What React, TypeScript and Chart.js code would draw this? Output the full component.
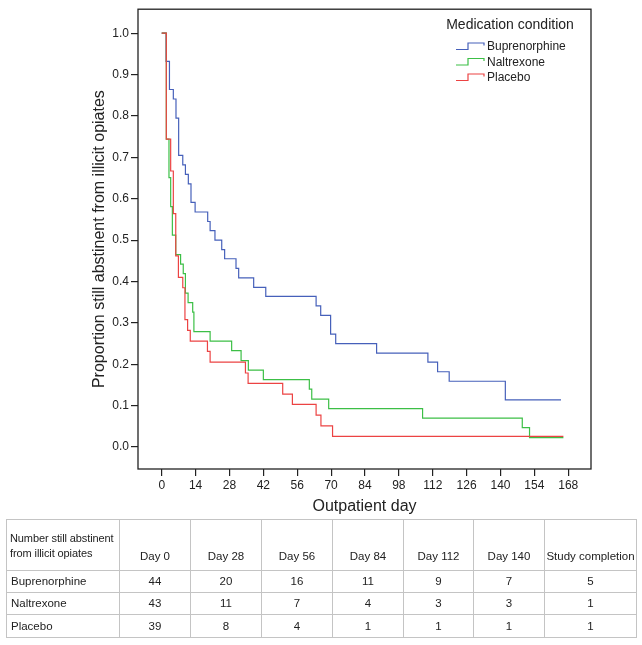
import React, { useEffect, useRef } from "react";
import { Chart, registerables } from "chart.js";

Chart.register(...registerables);

const seriesNames = ["Buprenorphine", "Naltrexone", "Placebo"];
const seriesColors = ["#4660BA", "#3CBF46", "#EC4343"];

const buprenorphineDays = [0, 1.8, 3.2, 4.8, 5.9, 7, 8.7, 9.8, 11, 12.1, 13.8, 19, 20, 22, 24.8, 26, 30.7, 31.8, 38, 43, 63.8, 65.7, 69.8, 71.9, 88.8, 110, 114, 118.8, 142, 165];
const buprenorphineSurvival = [1.0, 0.932, 0.864, 0.841, 0.795, 0.705, 0.682, 0.659, 0.636, 0.591, 0.568, 0.545, 0.523, 0.5, 0.477, 0.455, 0.432, 0.409, 0.386, 0.364, 0.341, 0.318, 0.273, 0.25, 0.227, 0.205, 0.182, 0.159, 0.114, 0.114];

const naltrexoneDays = [0, 1.9, 3.0, 3.7, 4.4, 5.8, 7.8, 8.9, 9.8, 10.9, 12.8, 13.3, 20, 28.9, 32.8, 35.8, 42, 61, 62, 69, 107.8, 149, 152, 166];
const naltrexoneSurvival = [1.0, 0.744, 0.651, 0.581, 0.512, 0.465, 0.442, 0.419, 0.372, 0.349, 0.326, 0.279, 0.256, 0.233, 0.209, 0.186, 0.163, 0.14, 0.116, 0.093, 0.07, 0.047, 0.023, 0.023];

const placeboDays = [0, 1.9, 3.7, 4.8, 5.8, 6.9, 8.7, 9.6, 10.7, 11.8, 18.9, 20, 34.6, 35.7, 50, 54, 63.8, 65.8, 70.6, 166];
const placeboSurvival = [1.0, 0.744, 0.667, 0.564, 0.462, 0.41, 0.385, 0.308, 0.282, 0.256, 0.231, 0.205, 0.179, 0.154, 0.128, 0.103, 0.077, 0.051, 0.026, 0.026];

const xTicks = [0, 14, 28, 42, 56, 70, 84, 98, 112, 126, 140, 154, 168];
const yTicks = [0, 0.1, 0.2, 0.3, 0.4, 0.5, 0.6, 0.7, 0.8, 0.9, 1.0];

const xTitle = "Outpatient day";
const yTitle = "Proportion still abstinent from illicit opiates";
const legendTitle = "Medication condition";

const tableCorner = ["Number still abstinent", "from illicit opiates"];
const tableColumns = ["Day 0", "Day 28", "Day 56", "Day 84", "Day 112", "Day 140", "Study completion"];
const buprenorphineCounts = [44, 20, 16, 11, 9, 7, 5];
const naltrexoneCounts = [43, 11, 7, 4, 3, 3, 1];
const placeboCounts = [39, 8, 4, 1, 1, 1, 1];

const FONT = '"Liberation Sans", Arial, sans-serif';

const toPoints = (xs: number[], ys: number[]) => xs.map((x, i) => ({ x, y: ys[i] }));

const framePlugin = {
  id: "frame",
  afterDraw(chart: any) {
    const { ctx, chartArea } = chart;
    ctx.save();
    ctx.strokeStyle = "#222";
    ctx.lineWidth = 1.3;
    ctx.strokeRect(chartArea.left, chartArea.top, chartArea.right - chartArea.left, chartArea.bottom - chartArea.top);
    ctx.restore();
  },
};

const legendPlugin = {
  id: "kmLegend",
  afterDraw(chart: any) {
    const { ctx, chartArea } = chart;
    const cx = chartArea.right - 81;
    ctx.save();
    ctx.fillStyle = "#222";
    ctx.font = `14px ${FONT}`;
    ctx.textAlign = "center";
    ctx.textBaseline = "middle";
    ctx.fillText(legendTitle, cx, 25);
    ctx.font = `12px ${FONT}`;
    ctx.textAlign = "left";
    seriesNames.forEach((name, i) => {
      const y = 47 + i * 15.5;
      const x0 = chartArea.right - 135;
      ctx.strokeStyle = seriesColors[i];
      ctx.lineWidth = 1.2;
      ctx.beginPath();
      ctx.moveTo(x0, y + 2.5);
      ctx.lineTo(x0 + 12, y + 2.5);
      ctx.lineTo(x0 + 12, y - 4);
      ctx.lineTo(x0 + 28, y - 4);
      ctx.lineTo(x0 + 28, y - 1.5);
      ctx.stroke();
      ctx.fillStyle = "#222";
      ctx.fillText(name, x0 + 31, y);
    });
    ctx.restore();
  },
};

function KMChart() {
  const ref = useRef<HTMLCanvasElement | null>(null);
  useEffect(() => {
    if (!ref.current) return;
    Chart.defaults.font.family = FONT;
    const datasets = [
      { label: seriesNames[0], data: toPoints(buprenorphineDays, buprenorphineSurvival), borderColor: seriesColors[0], order: 2 },
      { label: seriesNames[1], data: toPoints(naltrexoneDays, naltrexoneSurvival), borderColor: seriesColors[1], order: 1 },
      { label: seriesNames[2], data: toPoints(placeboDays, placeboSurvival), borderColor: seriesColors[2], order: 0 },
    ].map((d) => ({ ...d, stepped: "before" as const, borderWidth: 1.2, pointRadius: 0, fill: false, tension: 0 }));

    const chart = new Chart(ref.current, {
      type: "line",
      data: { datasets },
      options: {
        animation: false,
        responsive: false,
        events: [],
        layout: { padding: { left: 86, top: 7, right: 51, bottom: 0 } },
        plugins: { legend: { display: false }, tooltip: { enabled: false } },
        scales: {
          x: {
            type: "linear",
            min: -9.8,
            max: 177.4,
            afterFit: (s: any) => { s.height = 51; },
            afterBuildTicks: (s: any) => { s.ticks = xTicks.map((v) => ({ value: v })); },
            grid: { drawOnChartArea: false, drawTicks: true, tickLength: 7, color: "#222", lineWidth: 1.2 },
            border: { display: false },
            ticks: { color: "#222", font: { size: 12 }, padding: 2, maxRotation: 0, callback: (v: any) => String(v) },
            title: { display: true, text: xTitle, color: "#222", font: { size: 16 }, padding: { top: 4, bottom: 4 } },
          },
          y: {
            type: "linear",
            min: -0.053,
            max: 1.058,
            afterFit: (s: any) => { s.width = 52; },
            afterBuildTicks: (s: any) => { s.ticks = yTicks.map((v) => ({ value: v })); },
            grid: { drawOnChartArea: false, drawTicks: true, tickLength: 7, color: "#222", lineWidth: 1.2 },
            border: { display: false },
            ticks: { color: "#222", font: { size: 12 }, padding: 2, callback: (v: any) => Number(v).toFixed(1) },
            title: { display: true, text: yTitle, color: "#222", font: { size: 16 }, padding: { top: 4, bottom: 4 } },
          },
        },
      },
      plugins: [framePlugin, legendPlugin],
    } as any);
    return () => chart.destroy();
  }, []);
  return <canvas ref={ref} width={642} height={520} style={{ position: "absolute", left: 0, top: 0, width: 642, height: 520 }} />;
}

const colWidths = [113, 71, 71, 71, 71, 70, 71, 92];

function CountsTable() {
  const border = "1px solid #c4c4c4";
  const cell: React.CSSProperties = { border, padding: "0 1px", textAlign: "center", verticalAlign: "middle", whiteSpace: "nowrap" };
  const first: React.CSSProperties = { ...cell, textAlign: "left", paddingLeft: 4 };
  const rows: [string, number[]][] = [
    [seriesNames[0], buprenorphineCounts],
    [seriesNames[1], naltrexoneCounts],
    [seriesNames[2], placeboCounts],
  ];
  return (
    <table
      style={{
        position: "absolute",
        left: 6,
        top: 519,
        width: colWidths.reduce((a, b) => a + b, 0),
        borderCollapse: "collapse",
        tableLayout: "fixed",
        fontFamily: FONT,
        fontSize: 11.5,
        color: "#222",
        lineHeight: "15px",
      }}
    >
      <colgroup>
        {colWidths.map((w, i) => (
          <col key={i} style={{ width: w }} />
        ))}
      </colgroup>
      <tbody>
        <tr style={{ height: 51 }}>
          <td style={{ ...first, verticalAlign: "bottom", paddingBottom: 9, paddingLeft: 3, fontSize: 11, letterSpacing: -0.1 }}>
            {tableCorner[0]}
            <br />
            {tableCorner[1]}
          </td>
          {tableColumns.map((c) => (
            <td key={c} style={{ ...cell, verticalAlign: "bottom", paddingBottom: 6 }}>
              {c}
            </td>
          ))}
        </tr>
        {rows.map(([name, vals], r) => (
          <tr key={name} style={{ height: r === 2 ? 23 : 22 }}>
            <td style={first}>{name}</td>
            {vals.map((v, i) => (
              <td key={i} style={cell}>
                {v}
              </td>
            ))}
          </tr>
        ))}
      </tbody>
    </table>
  );
}

export default function App() {
  return (
    <div style={{ position: "absolute", left: 0, top: 0, width: 642, height: 645, background: "#fff" }}>
      <KMChart />
      <CountsTable />
    </div>
  );
}
